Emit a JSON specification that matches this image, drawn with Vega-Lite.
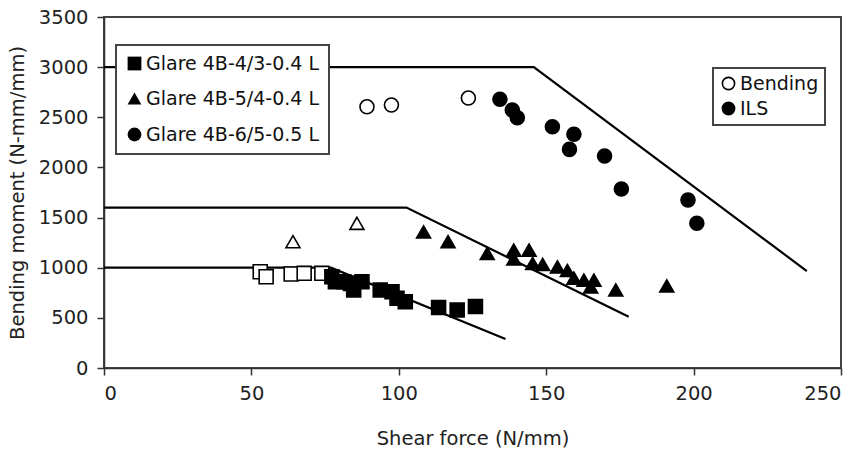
{
  "$schema": "https://vega.github.io/schema/vega-lite/v6.json",
  "width": 737,
  "height": 351,
  "autosize": "none",
  "padding": {"left": 104, "top": 17, "right": 24, "bottom": 88},
  "background": "white",
  "config": {
    "view": {"stroke": "#444", "strokeWidth": 2},
    "font": "DejaVu Sans",
    "axis": {
      "grid": false,
      "domainColor": "#333",
      "domainWidth": 1.5,
      "tickColor": "#333",
      "tickWidth": 1.5,
      "tickSize": 7,
      "labelFont": "DejaVu Sans",
      "labelFontSize": 19.5,
      "labelColor": "#222",
      "titleFont": "DejaVu Sans",
      "titleFontSize": 19.5,
      "titleFontWeight": "normal",
      "titleColor": "#222",
      "labelPadding": 9
    }
  },
  "datasets": {
    "lines": [
      {"line": "Glare 4B-4/3-0.4 L", "x": 0, "y": 1000},
      {"line": "Glare 4B-4/3-0.4 L", "x": 77, "y": 1000},
      {"line": "Glare 4B-4/3-0.4 L", "x": 136.2, "y": 290},
      {"line": "Glare 4B-5/4-0.4 L", "x": 0, "y": 1600},
      {"line": "Glare 4B-5/4-0.4 L", "x": 102.6, "y": 1600},
      {"line": "Glare 4B-5/4-0.4 L", "x": 178, "y": 510},
      {"line": "Glare 4B-6/5-0.5 L", "x": 0, "y": 3000},
      {"line": "Glare 4B-6/5-0.5 L", "x": 145.8, "y": 3000},
      {"line": "Glare 4B-6/5-0.5 L", "x": 238.4, "y": 967}
    ],
    "points": [
      {"series": "Glare 4B-4/3-0.4 L", "type": "Bending", "x": 53.0, "y": 960},
      {"series": "Glare 4B-4/3-0.4 L", "type": "Bending", "x": 55.0, "y": 910},
      {"series": "Glare 4B-4/3-0.4 L", "type": "Bending", "x": 63.5, "y": 937},
      {"series": "Glare 4B-4/3-0.4 L", "type": "Bending", "x": 67.9, "y": 944},
      {"series": "Glare 4B-4/3-0.4 L", "type": "Bending", "x": 73.9, "y": 944},
      {"series": "Glare 4B-4/3-0.4 L", "type": "ILS", "x": 77.3, "y": 910},
      {"series": "Glare 4B-4/3-0.4 L", "type": "ILS", "x": 78.5, "y": 860},
      {"series": "Glare 4B-4/3-0.4 L", "type": "ILS", "x": 81.3, "y": 860},
      {"series": "Glare 4B-4/3-0.4 L", "type": "ILS", "x": 83.6, "y": 844},
      {"series": "Glare 4B-4/3-0.4 L", "type": "ILS", "x": 87.5, "y": 860},
      {"series": "Glare 4B-4/3-0.4 L", "type": "ILS", "x": 84.7, "y": 778},
      {"series": "Glare 4B-4/3-0.4 L", "type": "ILS", "x": 93.7, "y": 778},
      {"series": "Glare 4B-4/3-0.4 L", "type": "ILS", "x": 97.7, "y": 761},
      {"series": "Glare 4B-4/3-0.4 L", "type": "ILS", "x": 99.4, "y": 695},
      {"series": "Glare 4B-4/3-0.4 L", "type": "ILS", "x": 102.2, "y": 661},
      {"series": "Glare 4B-4/3-0.4 L", "type": "ILS", "x": 113.5, "y": 603},
      {"series": "Glare 4B-4/3-0.4 L", "type": "ILS", "x": 119.8, "y": 578},
      {"series": "Glare 4B-4/3-0.4 L", "type": "ILS", "x": 126.0, "y": 613},
      {"series": "Glare 4B-5/4-0.4 L", "type": "Bending", "x": 64.1, "y": 1260},
      {"series": "Glare 4B-5/4-0.4 L", "type": "Bending", "x": 85.8, "y": 1443},
      {"series": "Glare 4B-5/4-0.4 L", "type": "ILS", "x": 108.4, "y": 1356},
      {"series": "Glare 4B-5/4-0.4 L", "type": "ILS", "x": 116.7, "y": 1260},
      {"series": "Glare 4B-5/4-0.4 L", "type": "ILS", "x": 130.0, "y": 1142},
      {"series": "Glare 4B-5/4-0.4 L", "type": "ILS", "x": 139.0, "y": 1176},
      {"series": "Glare 4B-5/4-0.4 L", "type": "ILS", "x": 144.2, "y": 1176},
      {"series": "Glare 4B-5/4-0.4 L", "type": "ILS", "x": 139.0, "y": 1087},
      {"series": "Glare 4B-5/4-0.4 L", "type": "ILS", "x": 145.4, "y": 1042},
      {"series": "Glare 4B-5/4-0.4 L", "type": "ILS", "x": 148.8, "y": 1032},
      {"series": "Glare 4B-5/4-0.4 L", "type": "ILS", "x": 153.8, "y": 1007},
      {"series": "Glare 4B-5/4-0.4 L", "type": "ILS", "x": 157.2, "y": 972},
      {"series": "Glare 4B-5/4-0.4 L", "type": "ILS", "x": 159.4, "y": 897},
      {"series": "Glare 4B-5/4-0.4 L", "type": "ILS", "x": 162.8, "y": 877},
      {"series": "Glare 4B-5/4-0.4 L", "type": "ILS", "x": 166.2, "y": 877},
      {"series": "Glare 4B-5/4-0.4 L", "type": "ILS", "x": 165.1, "y": 808},
      {"series": "Glare 4B-5/4-0.4 L", "type": "ILS", "x": 173.6, "y": 778},
      {"series": "Glare 4B-5/4-0.4 L", "type": "ILS", "x": 190.9, "y": 818},
      {"series": "Glare 4B-6/5-0.5 L", "type": "Bending", "x": 89.2, "y": 2605},
      {"series": "Glare 4B-6/5-0.5 L", "type": "Bending", "x": 97.5, "y": 2622},
      {"series": "Glare 4B-6/5-0.5 L", "type": "Bending", "x": 123.6, "y": 2692},
      {"series": "Glare 4B-6/5-0.5 L", "type": "ILS", "x": 134.3, "y": 2679},
      {"series": "Glare 4B-6/5-0.5 L", "type": "ILS", "x": 138.5, "y": 2572},
      {"series": "Glare 4B-6/5-0.5 L", "type": "ILS", "x": 140.2, "y": 2496},
      {"series": "Glare 4B-6/5-0.5 L", "type": "ILS", "x": 152.1, "y": 2406},
      {"series": "Glare 4B-6/5-0.5 L", "type": "ILS", "x": 159.4, "y": 2330},
      {"series": "Glare 4B-6/5-0.5 L", "type": "ILS", "x": 157.9, "y": 2180},
      {"series": "Glare 4B-6/5-0.5 L", "type": "ILS", "x": 169.8, "y": 2114},
      {"series": "Glare 4B-6/5-0.5 L", "type": "ILS", "x": 175.5, "y": 1785},
      {"series": "Glare 4B-6/5-0.5 L", "type": "ILS", "x": 198.1, "y": 1675},
      {"series": "Glare 4B-6/5-0.5 L", "type": "ILS", "x": 201.1, "y": 1443}
    ]
  },
  "encoding": {
    "x": {
      "field": "x",
      "type": "quantitative",
      "scale": {"domain": [0, 250], "nice": false, "zero": false},
      "axis": {"values": [0, 50, 100, 150, 200, 250], "title": "Shear force (N/mm)", "titlePadding": 27}
    },
    "y": {
      "field": "y",
      "type": "quantitative",
      "scale": {"domain": [0, 3500], "nice": false, "zero": false},
      "axis": {"values": [0, 500, 1000, 1500, 2000, 2500, 3000, 3500], "format": "d", "title": "Bending moment (N-mm/mm)", "titlePadding": 11}
    }
  },
  "layer": [
    {
      "data": {"name": "lines"},
      "mark": {"type": "line", "color": "black", "strokeWidth": 2.2},
      "encoding": {"detail": {"field": "line", "type": "nominal"}}
    },
    {
      "data": {"name": "points"},
      "mark": {"type": "point", "filled": true, "stroke": "black", "strokeWidth": 1.6, "size": 195, "opacity": 1},
      "encoding": {
        "shape": {
          "field": "series",
          "type": "nominal",
          "scale": {"domain": ["Glare 4B-4/3-0.4 L", "Glare 4B-5/4-0.4 L", "Glare 4B-6/5-0.5 L"], "range": ["square", "triangle-up", "circle"]},
          "legend": {
            "title": null,
            "orient": "none",
            "legendX": 12,
            "legendY": 28,
            "padding": 9,
            "rowPadding": 15,
            "labelFontSize": 19,
            "labelFont": "DejaVu Sans",
            "labelColor": "#111",
            "labelLimit": 400,
            "labelOffset": 2,
            "symbolSize": 190,
            "symbolFillColor": "black",
            "symbolStrokeColor": "black",
            "symbolOpacity": 1,
            "strokeColor": "#444",
            "fillColor": "white",
            "encode": {"legend": {"update": {"strokeWidth": {"value": 2}}}, "symbols": {"update": {"fill": {"value": "black"}, "opacity": {"value": 1}}}}
          }
        },
        "fill": {
          "field": "type",
          "type": "nominal",
          "scale": {"domain": ["Bending", "ILS"], "range": ["white", "black"]},
          "legend": {
            "title": null,
            "orient": "none",
            "legendX": 609,
            "legendY": 51,
            "padding": 6,
            "rowPadding": 5,
            "labelFontSize": 19,
            "labelFont": "DejaVu Sans",
            "labelColor": "#111",
            "labelOffset": 2,
            "symbolType": "circle",
            "symbolSize": 150,
            "symbolStrokeColor": "black",
            "symbolStrokeWidth": 1.6,
            "symbolOpacity": 1,
            "strokeColor": "#444",
            "fillColor": "white",
            "encode": {"legend": {"update": {"strokeWidth": {"value": 2}}}, "symbols": {"update": {"stroke": {"value": "black"}, "opacity": {"value": 1}}}}
          }
        }
      }
    }
  ]
}
